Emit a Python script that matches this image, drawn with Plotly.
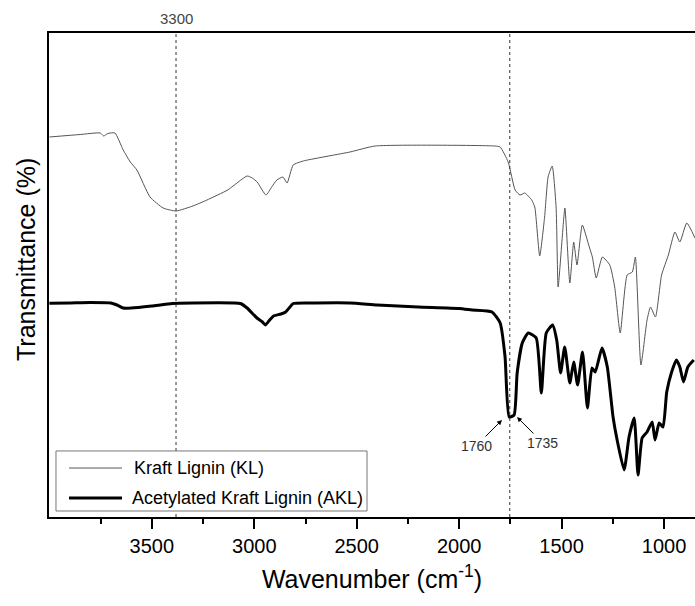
import plotly.graph_objects as go

# Kraft Lignin (KL) spectrum (arbitrary transmittance units)
kl_wavenumber = [4000, 3850, 3752, 3735, 3715, 3680, 3640, 3605, 3573, 3509, 3445, 3382, 3300, 3231,
                 3130, 3035, 3010, 2986, 2943, 2915, 2890, 2860, 2840, 2810, 2761, 2533, 2410, 1826,
                 1800, 1761, 1727, 1703, 1680, 1646, 1631, 1607, 1583, 1566, 1546, 1527, 1517, 1498,
                 1484, 1460, 1441, 1425, 1399, 1365, 1350, 1331, 1301, 1265, 1241, 1214, 1180, 1155,
                 1140, 1113, 1083, 1066, 1042, 1012, 979, 947, 923, 889, 849]
kl_transmittance = [380, 382.5, 384, 381, 383.5, 384, 367, 355, 347, 320, 309, 306, 311, 317,
                    327, 341, 339, 335, 322, 330, 337, 340, 334, 352, 356, 365, 371, 371,
                    370, 355, 327, 322, 324, 317, 310, 261, 300, 340, 351, 310, 230, 277,
                    309, 234, 275, 252, 292, 270, 260, 239, 260, 252, 230, 184, 242, 245,
                    260, 152, 197, 210, 200, 242, 262, 285, 275, 294, 279]

# Acetylated Kraft Lignin (AKL) spectrum
akl_wavenumber = [4000, 3900, 3800, 3700, 3670, 3640, 3600, 3500, 3400, 3300, 3100, 3068, 3035, 2987,
                  2960, 2946, 2925, 2906, 2870, 2847, 2830, 2810, 2700, 2533, 2400, 2200, 2000, 1937,
                  1840, 1800, 1776, 1756, 1732, 1717, 1692, 1663, 1624, 1599, 1575, 1544, 1524, 1505,
                  1485, 1460, 1441, 1422, 1398, 1374, 1352, 1336, 1303, 1277, 1249, 1229, 1195, 1171,
                  1146, 1127, 1107, 1083, 1058, 1044, 1024, 1005, 987, 963, 940, 923, 905, 884, 855]
akl_transmittance = [213.7, 214, 214.5, 214, 212, 209, 209, 211, 213.5, 214, 214, 213.5, 209, 199,
                     195, 192, 197, 201, 203, 205, 209, 213.5, 214, 214, 212, 210, 208.5, 207,
                     205, 194, 160, 100, 102, 144, 174, 184, 179, 124, 184, 192, 177, 144,
                     170, 134, 155, 132, 165, 109, 149, 145, 169, 150, 100, 77, 47, 80,
                     99, 42, 79, 85, 95, 77, 94, 90, 125, 145, 157, 150, 135, 150, 157]

series_names = ["Kraft Lignin (KL)", "Acetylated Kraft Lignin (AKL)"]
marker_lines = [3382, 1753]
marker_label = "3300"
peak_labels = ["1760", "1735"]

FONT = "Arial, 'Liberation Sans', sans-serif"

fig = go.Figure()
fig.add_trace(go.Scatter(x=kl_wavenumber, y=kl_transmittance, mode="lines", name=series_names[0],
                         line=dict(color="#555555", width=1, shape="spline", smoothing=0.5),
                         showlegend=False))
fig.add_trace(go.Scatter(x=akl_wavenumber, y=akl_transmittance, mode="lines", name=series_names[1],
                         line=dict(color="black", width=3, shape="spline", smoothing=0.5),
                         showlegend=False))

# dashed reference lines
for xv in marker_lines:
    fig.add_shape(type="line", xref="x", yref="paper", x0=xv, x1=xv, y0=0, y1=1,
                  line=dict(color="#333333", width=1, dash="3px,3px"), layer="above")

fig.add_annotation(x=marker_lines[0], xref="x", y=1.029, yref="paper", text=marker_label,
                   showarrow=False, font=dict(family=FONT, size=15, color="#444444"),
                   xanchor="center", yanchor="middle")

# labelled arrows pointing at the carbonyl peak
fig.add_annotation(x=1791, y=97, xref="x", yref="y", text=peak_labels[0], showarrow=True,
                   ax=-26, ay=26, arrowhead=2, arrowsize=1, arrowwidth=1, arrowcolor="black",
                   font=dict(family=FONT, size=14, color="#333333"))
fig.add_annotation(x=1718, y=100, xref="x", yref="y", text=peak_labels[1], showarrow=True,
                   ax=26, ay=26, arrowhead=2, arrowsize=1, arrowwidth=1, arrowcolor="black",
                   font=dict(family=FONT, size=14, color="#333333"))

# legend box (drawn manually to match the long line samples)
fig.add_shape(type="rect", xref="paper", yref="paper", x0=0.0108, x1=0.4923, y0=0.0124, y1=0.1364,
              line=dict(color="#777777", width=1), fillcolor="white", layer="above")
fig.add_shape(type="line", xref="paper", yref="paper", x0=0.031, x1=0.113, y0=0.1012, y1=0.1012,
              line=dict(color="#555555", width=1), layer="above")
fig.add_shape(type="line", xref="paper", yref="paper", x0=0.031, x1=0.113, y0=0.0393, y1=0.0393,
              line=dict(color="black", width=3), layer="above")
fig.add_annotation(x=0.1285, y=0.1012, xref="paper", yref="paper", text=series_names[0],
                   showarrow=False, xanchor="left", yanchor="middle",
                   font=dict(family=FONT, size=18, color="black"))
fig.add_annotation(x=0.1255, y=0.0393, xref="paper", yref="paper", text=series_names[1],
                   showarrow=False, xanchor="left", yanchor="middle",
                   font=dict(family=FONT, size=18, color="black"))

# y-axis title as a rotated annotation (placed slightly above centre as in the reference)
fig.add_annotation(x=-0.0356, y=0.531, xref="paper", yref="paper", text="Transmittance (%)",
                   showarrow=False, textangle=-90, xanchor="center", yanchor="middle",
                   font=dict(family=FONT, size=25, color="black"))

fig.update_layout(
    width=695, height=606,
    margin=dict(l=49, r=0, t=33, b=89),
    paper_bgcolor="white", plot_bgcolor="white",
    font=dict(family=FONT, color="black"),
    showlegend=False,
    xaxis=dict(
        range=[4002, 849], showgrid=False, zeroline=False,
        showline=True, linecolor="black", linewidth=2, mirror=True,
        ticks="outside", ticklen=10, tickwidth=2, tickcolor="black",
        tickmode="array", tickvals=[3500, 3000, 2500, 2000, 1500, 1000],
        ticktext=["3500", "3000", "2500", "2000", "1500", "1000"],
        tickfont=dict(family=FONT, size=20, color="black"),
        minor=dict(ticks="outside", ticklen=5, tickwidth=2, tickcolor="black",
                   tickvals=[3750, 3250, 2750, 2250, 1750, 1250]),
        title=dict(text="Wavenumber (cm<sup>-1</sup>)", font=dict(family=FONT, size=25, color="black"),
                   standoff=14),
    ),
    yaxis=dict(
        range=[0, 484], showgrid=False, zeroline=False,
        showline=True, linecolor="black", linewidth=2, mirror=False,
        ticks="", showticklabels=False,
    ),
)

fig.write_html("out.html")
